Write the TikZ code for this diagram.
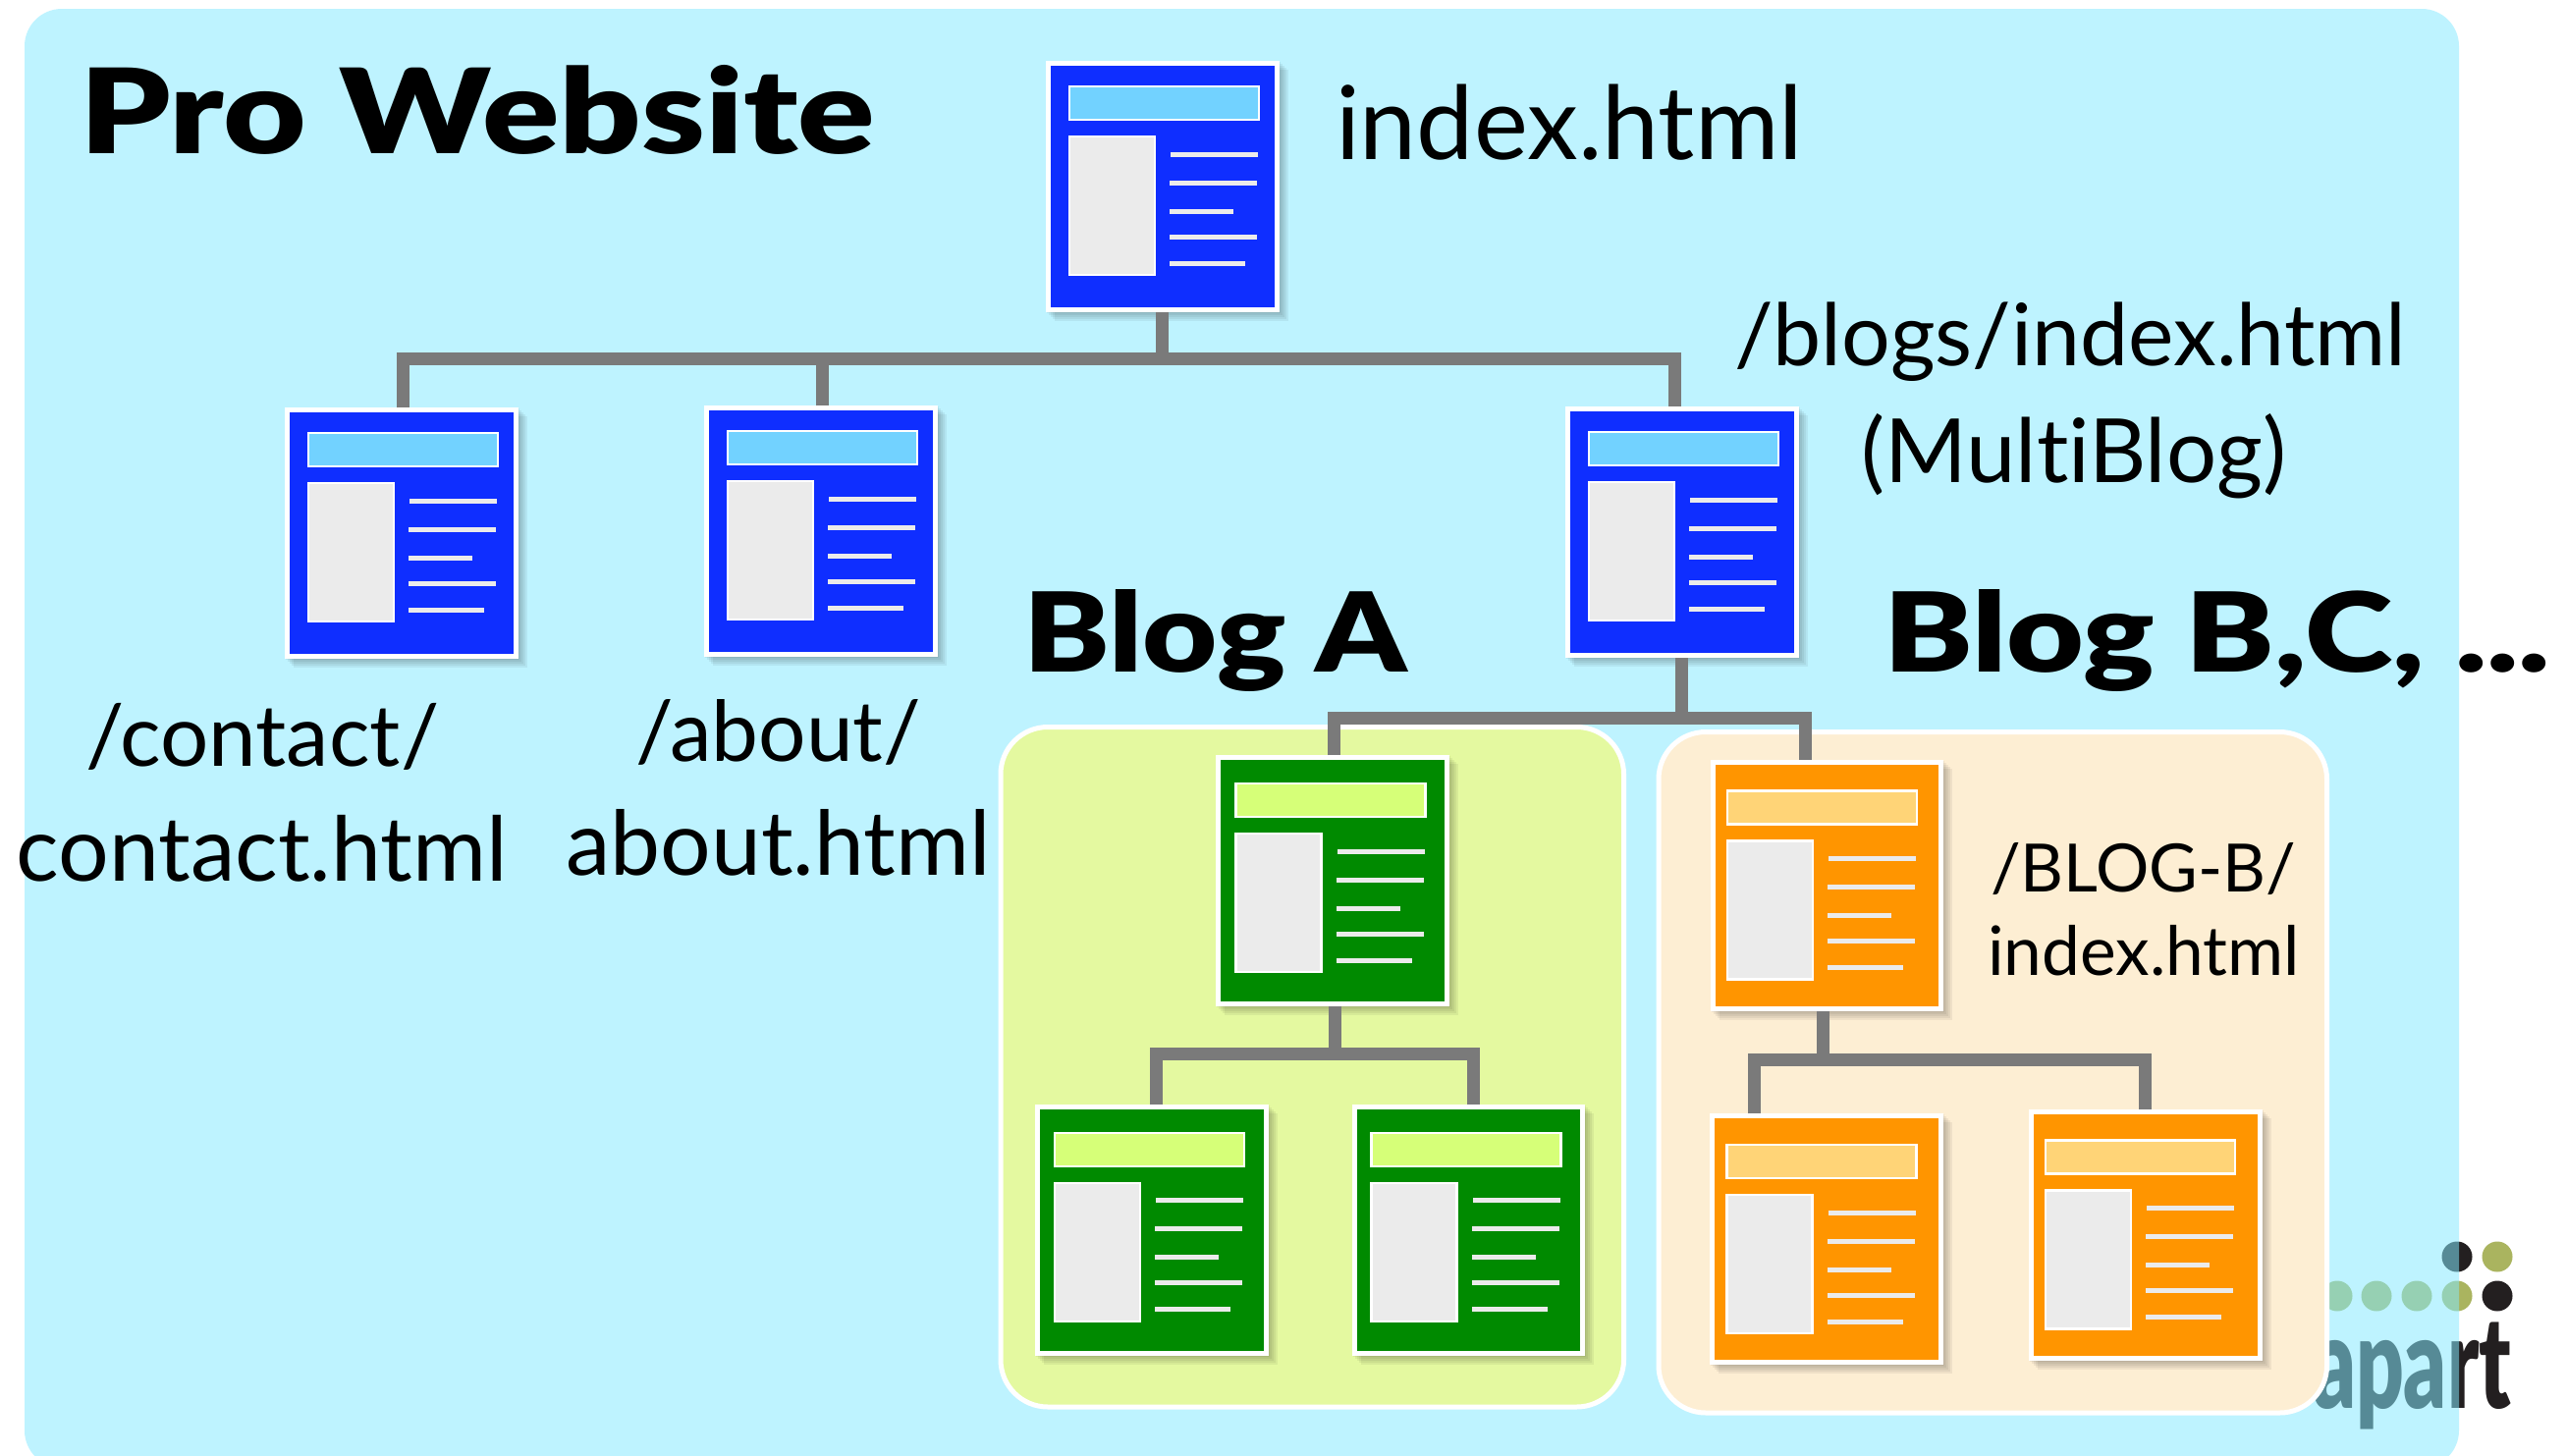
\documentclass[tikz,border=0pt]{standalone}
\usepackage{fontspec}
\usepackage{graphicx}
\setmainfont[Ligatures=NoCommon]{Lato}
\newfontfamily\blk[Ligatures=NoCommon]{Lato Black}
\definecolor{bgblue}{HTML}{85EAFF}
\definecolor{pageblue}{HTML}{0F2EFF}
\definecolor{headblue}{HTML}{72D2FF}
\definecolor{pagegreen}{HTML}{008A00}
\definecolor{headgreen}{HTML}{D6FF78}
\definecolor{pageorange}{HTML}{FF9500}
\definecolor{headorange}{HTML}{FFD477}
\definecolor{panelA}{HTML}{E4F9A0}
\definecolor{panelB}{HTML}{FDEED3}
\definecolor{conngray}{HTML}{7A7A7A}
\definecolor{bargray}{HTML}{EBEBEB}
\definecolor{logoolive}{HTML}{AAB45F}
\definecolor{logoblack}{HTML}{231F20}
\tikzset{
  pagebox/.style={fill=white,minimum width=237.5pt,minimum height=256pt,inner sep=0pt,outer sep=0pt,anchor=north west},
  inset/.style={draw=white,line width=2.5pt},
  textbar/.style={fill=bargray,draw=none},
  conn/.style={draw=conngray,line width=13pt,line cap=butt,line join=miter},
  panel/.style={draw=white,line width=5pt,rounded corners=48pt},
  lab/.style={anchor=base west,inner sep=0pt,outer sep=0pt,text=black},
  logodot/.style={circle,minimum size=31pt,inner sep=0pt}
}
\newcommand{\fitw}[2]{\resizebox{#1pt}{!}{#2}}
\newcommand{\fitwh}[3]{\resizebox{#1pt}{#2pt}{#3}}
% name, x, y, page colour, header colour, content offset x, content offset y
\newcommand{\webpage}[7]{%
  \foreach \s in {1,3,5,7,9}{\fill[black,opacity=0.055] (#2+\s,#3+\s) rectangle (#2+237.5+\s,#3+256+\s);}
  \node[pagebox] (#1) at (#2,#3) {};
  \begin{scope}[shift={(#2,#3)}]
    \fill[#4] (5,5) rectangle (232.5,251);
    \begin{scope}[shift={(#6,#7)}]
    \filldraw[inset,fill=#5] (24,26) rectangle (217,60);
    \filldraw[inset,fill=bargray] (24,77) rectangle (111,218);
    \fill[textbar] (127,92.5) rectangle (216,97.5);
    \fill[textbar] (126,121.5) rectangle (215,126.5);
    \fill[textbar] (126,150.5) rectangle (191,155.5);
    \fill[textbar] (126,176.5) rectangle (215,181.5);
    \fill[textbar] (126,203.5) rectangle (203,208.5);
    \end{scope}
  \end{scope}}
\begin{document}
\begin{tikzpicture}[x=1pt,y=-1pt]
\useasboundingbox (0,0) rectangle (2613,1483);
\fill[white] (0,0) rectangle (2613,1483);
% logo, seen through the translucent background panel
\node[logodot,fill=logoblack] (d1) at (2502,1280) {};
\node[logodot,fill=logoolive] (d2) at (2543,1280) {};
\node[logodot,fill=logoolive] (d3) at (2380,1320) {};
\node[logodot,fill=logoolive] (d4) at (2420,1320) {};
\node[logodot,fill=logoolive] (d5) at (2461,1320) {};
\node[logodot,fill=logoolive] (d6) at (2502,1320) {};
\node[logodot,fill=logoblack] (d7) at (2543,1320) {};
\node[anchor=south west,inner sep=0pt,outer sep=0pt,text=logoblack] (logo) at (2355,1456)
  {\resizebox*{202pt}{109pt}{\blk apart}};
% panels
\fill[bgblue,opacity=0.53,rounded corners=38pt] (25,9) rectangle (2504,1495);
\filldraw[panel,fill=panelA] (1019,740.5) rectangle (1653.5,1433);
\filldraw[panel,fill=panelB] (1689,745.5) rectangle (2369.5,1439);
% pages
\webpage{root}{1065}{62}{pageblue}{headblue}{0}{0}
\webpage{contact}{290}{415}{pageblue}{headblue}{0}{0}
\webpage{about}{717}{413}{pageblue}{headblue}{0}{0}
\webpage{multi}{1594}{414}{pageblue}{headblue}{0}{0}
\webpage{ga}{1238}{769}{pagegreen}{headgreen}{-3.3}{3}
\webpage{gb}{1054}{1124.5}{pagegreen}{headgreen}{-4}{3.4}
\webpage{gc}{1376.5}{1124.5}{pagegreen}{headgreen}{-4}{3.4}
\webpage{oa}{1741.5}{774}{pageorange}{headorange}{-6.5}{5.7}
\webpage{ob}{1741}{1134}{pageorange}{headorange}{-6.5}{6}
\webpage{oc}{2066}{1130}{pageorange}{headorange}{-7}{5.3}
% connectors
\coordinate (bus1) at (1183,365.5);
\coordinate (bus2) at (1712,731);
\coordinate (bus3) at (1359,1073.5);
\coordinate (bus4) at (1856,1079.5);
\draw[conn] (root.south -| bus1) -- (bus1);
\draw[conn] ([xshift=1.5pt]contact.north) |- (bus1);
\draw[conn] (bus1) -| ([xshift=-7pt]multi.north);
\draw[conn] ([xshift=2pt]about.north) -- ([xshift=2pt]about.north |- bus1);
\draw[conn] (multi.south -| bus2) -- (bus2);
\draw[conn] ([xshift=2pt]ga.north) |- (bus2);
\draw[conn] (bus2) -| ([xshift=-21.5pt]oa.north);
\draw[conn] (ga.south -| bus3) -- (bus3);
\draw[conn] ([xshift=5pt]gb.north) |- (bus3);
\draw[conn] (bus3) -| ([xshift=5pt]gc.north);
\draw[conn] (oa.south -| bus4) -- (bus4);
\draw[conn] ([xshift=-73pt]ob.north) |- (bus4);
\draw[conn] (bus4) -| (oc.north);
% labels
\node[lab] (t1) at (81,156) {\blk\fitwh{810}{90}{Pro Website}};
\node[lab] (t2) at (1360,162) {\fitw{476}{index.html}};
\node[lab] (t3) at (1766,372) {\fitw{684}{/blogs/index.html}};
\node[lab] (t4) at (1895,491) {\fitw{433}{(MultiBlog)}};
\node[lab] (t5) at (1042,684) {\blk\fitwh{391}{84}{Blog A}};
\node[lab] (t6) at (1918,684) {\blk\fitwh{679}{84}{Blog B,C, ...}};
\node[lab] (t7) at (87,780) {\fitw{360}{/contact/}};
\node[lab] (t8) at (16.5,897) {\fitw{500}{contact.html}};
\node[lab] (t9) at (647,775) {\fitw{291}{/about/}};
\node[lab] (t10) at (576.5,891) {\fitw{432}{about.html}};
\node[lab] (t11) at (2027,908) {\fitw{311}{/BLOG-B/}};
\node[lab] (t12) at (2024,993) {\fitw{318}{index.html}};
\end{tikzpicture}
\end{document}
